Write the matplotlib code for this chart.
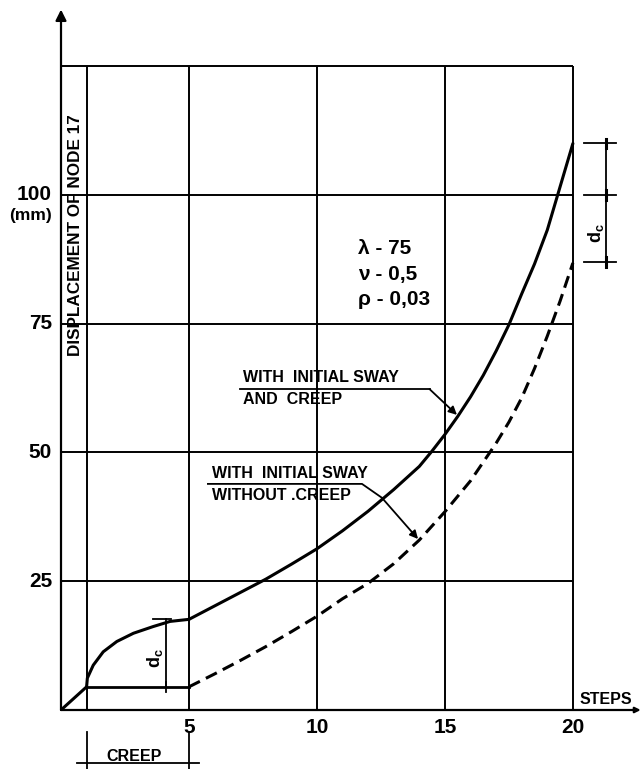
import matplotlib
matplotlib.use("Agg")
import matplotlib.pyplot as plt

plt.rcParams['font.family'] = ['Liberation Sans', 'DejaVu Sans']
plt.rcParams['font.weight'] = 'bold'

# ---- data (steps, displacement in mm) ----
x_ticks = [5, 10, 15, 20]
y_ticks = [25, 50, 75, 100]
grid_x = [1, 5, 10, 15, 20]
grid_y = [25, 50, 75, 100, 125]

# loading up to step 1 (both cases)
load_x = [0, 1]
load_y = [0, 4.5]

# creep phase, with creep
creep_x = [1, 1.03, 1.26, 1.65, 2.18, 2.83, 3.6, 4.26, 5]
creep_y = [4.5, 6.2, 8.7, 11.3, 13.3, 14.9, 16.2, 17.2, 17.6]

# with initial sway and creep (after creep)
sway_creep_x = [5, 6, 7, 8, 9, 10, 11, 12, 13, 14, 14.5, 15, 15.5, 16, 16.5,
                17, 17.5, 18, 18.5, 19, 19.5, 20]
sway_creep_y = [17.6, 20.2, 22.8, 25.4, 28.3, 31.3, 34.8, 38.6, 42.8, 47.3, 50.3,
                53.5, 57.0, 60.8, 65.0, 69.7, 74.8, 80.8, 86.6, 93.2, 101.6, 110.0]

# without creep: flat part then dashed
flat_x = [1, 5]
flat_y = [4.5, 4.5]
no_creep_x = [5, 6, 7, 8, 9, 10, 11, 12, 13, 14, 15, 16, 17, 17.5, 18, 18.5,
              19, 19.5, 20]
no_creep_y = [4.5, 7.0, 9.6, 12.3, 15.2, 18.2, 21.6, 24.6, 28.4, 33.0, 38.5,
              44.5, 51.8, 55.9, 60.6, 66.3, 72.6, 79.4, 86.8]

dc_end = [87, 100, 110]

fig = plt.figure(figsize=(6.42, 7.69), dpi=100)
ax = fig.add_axes([61 / 642, 59 / 769, 581 / 642, 705.6 / 769])
ax.set_xlim(0, 22.7)
ax.set_ylim(0, 137)
ax.axis('off')

k = 'black'
# grid box
ax.vlines(grid_x, 0, 125, color=k, lw=1.4)
ax.hlines(grid_y, 0, 20, color=k, lw=1.4)

# axes with arrows
ax.annotate("", xy=(0, 136), xytext=(0, 0),
            arrowprops=dict(arrowstyle='-|>', lw=1.6, color=k, mutation_scale=16,
                            shrinkA=0, shrinkB=0))
ax.annotate("", xy=(22.65, 0), xytext=(0, 0),
            arrowprops=dict(arrowstyle='-|>', lw=1.6, color=k, mutation_scale=8,
                            shrinkA=0, shrinkB=0))

# curves
ax.plot(load_x, load_y, color=k, lw=2.2, solid_capstyle='round')
ax.plot(creep_x, creep_y, color=k, lw=2.2, solid_capstyle='round',
        solid_joinstyle='round')
ax.plot(sway_creep_x, sway_creep_y, color=k, lw=2.2, solid_capstyle='round',
        solid_joinstyle='round')
ax.plot(flat_x, flat_y, color=k, lw=2.0)
ax.plot(no_creep_x, no_creep_y, color=k, lw=2.2, ls=(0, (4, 2.2)))

# tick labels
for v in y_ticks:
    ax.text(-0.35, v, str(v), ha='right', va='center', fontsize=15, clip_on=False)
ax.text(-0.35, 96.0, "(mm)", ha='right', va='center', fontsize=12.5, clip_on=False)
for v in x_ticks:
    ax.text(v, -1.6, str(v), ha='center', va='top', fontsize=15, clip_on=False)
ax.text(20.25, 0.6, "STEPS", ha='left', va='bottom', fontsize=11.5)

ax.text(0.55, 92.2, "DISPLACEMENT OF NODE 17", rotation=90, ha='center', va='center',
        fontsize=12.3)

# parameters
ax.text(11.6, 89.7, "λ - 75", ha='left', va='center', fontsize=15)
ax.text(11.6, 84.5, "ν - 0,5", ha='left', va='center', fontsize=15)
ax.text(11.6, 79.8, "ρ - 0,03", ha='left', va='center', fontsize=15)

# label: with initial sway and creep
ax.text(7.1, 64.6, "WITH  INITIAL SWAY", ha='left', va='center', fontsize=11.5)
ax.text(7.1, 60.2, "AND  CREEP", ha='left', va='center', fontsize=11.5)
ax.plot([7.0, 14.4], [62.3, 62.3], color=k, lw=1.3)
ax.annotate("", xy=(15.47, 57.3), xytext=(14.4, 62.3),
            arrowprops=dict(arrowstyle='-|>', lw=1.3, color=k, mutation_scale=12,
                            shrinkA=0, shrinkB=0))

# label: with initial sway without creep
ax.text(5.9, 46.0, "WITH  INITIAL SWAY", ha='left', va='center', fontsize=11.5)
ax.text(5.9, 41.7, "WITHOUT .CREEP", ha='left', va='center', fontsize=11.5)
ax.plot([5.74, 11.76, 12.54], [43.9, 43.9, 41.2], color=k, lw=1.3)
ax.annotate("", xy=(13.95, 33.2), xytext=(12.54, 41.2),
            arrowprops=dict(arrowstyle='-|>', lw=1.3, color=k, mutation_scale=12,
                            shrinkA=0, shrinkB=0))

# d_c dimension at creep
ax.plot([4.1, 4.1], [load_y[1], 17.6], color=k, lw=1.3)
ax.plot([3.6, 4.3], [17.6, 17.6], color=k, lw=1.3)
ax.plot([4.1, 4.1], [3.5, 5.5], color=k, lw=1.3)
ax.text(3.67, 10.1, "d$_\\mathregular{c}$", rotation=90, ha='center', va='center',
        fontsize=13)

# d_c dimension at step 20
ax.plot([21.3, 21.3], [dc_end[0], dc_end[2]], color=k, lw=1.3)
for v in dc_end:
    ax.plot([20.45, 21.7], [v, v], color=k, lw=1.3, clip_on=False)
    ax.plot([21.3, 21.3], [v - 0.9, v + 0.9], color=k, lw=2.2)
ax.text(20.9, 92.6, "d$_\\mathregular{c}$", rotation=90, ha='center', va='center',
        fontsize=13)

# creep period below the axis
ax.plot([1, 1], [-4.3, -11.8], color=k, lw=1.3, clip_on=False)
ax.plot([5, 5], [-4.3, -11.8], color=k, lw=1.3, clip_on=False)
ax.plot([0.63, 5.4], [-10.3, -10.3], color=k, lw=1.3, clip_on=False)
ax.text(2.85, -9.9, "CREEP", ha='center', va='baseline', fontsize=11.5, clip_on=False)

fig.savefig("out.png", dpi=100, facecolor='white')
